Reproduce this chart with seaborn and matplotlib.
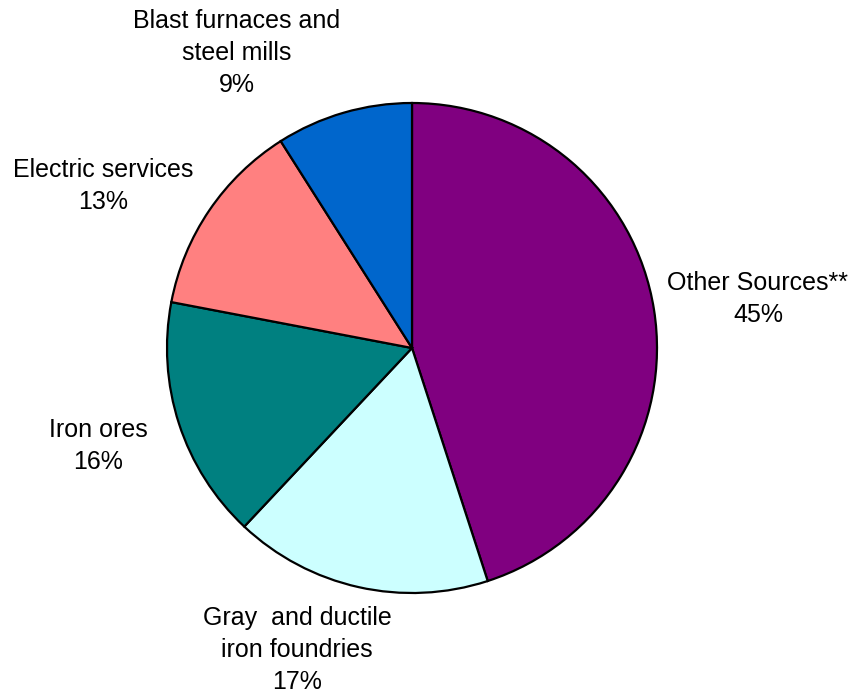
import matplotlib
matplotlib.use("Agg")
import matplotlib.pyplot as plt
import seaborn as sns

categories = ["Other Sources**", "Gray  and ductile\niron foundries", "Iron ores",
              "Electric services", "Blast furnaces and\nsteel mills"]
values = [45, 17, 16, 13, 9]
colors = ["#800080", "#CCFFFF", "#008080", "#FF8080", "#0066CC"]

# label anchor positions (pixel layout, top-left origin)
label_pos = [(758, 299), (297, 650), (98, 446), (103, 186), (237, 53)]

sns.set_theme(style="white")
plt.rcParams['font.family'] = ['Liberation Sans', 'DejaVu Sans']

W, H = 854, 696
fig = plt.figure(figsize=(W / 100, H / 100), dpi=100)
ax = fig.add_axes([0, 0, 1, 1])

cx, cy, r = 412, H - 348, 245
ax.pie(values, colors=colors, startangle=90, counterclock=False,
       center=(cx, cy), radius=r, frame=True,
       wedgeprops=dict(edgecolor='black', linewidth=1.6, antialiased=True))
ax.set_xlim(0, W)
ax.set_ylim(0, H)
ax.set_aspect('equal')
ax.axis('off')

for cat, v, (x, y) in zip(categories, values, label_pos):
    ax.text(x, H - y, f"{cat}\n{v}%", ha='center', va='center',
            fontsize=18, color='black', linespacing=1.42)

fig.savefig("out.png", dpi=100, facecolor='white')
